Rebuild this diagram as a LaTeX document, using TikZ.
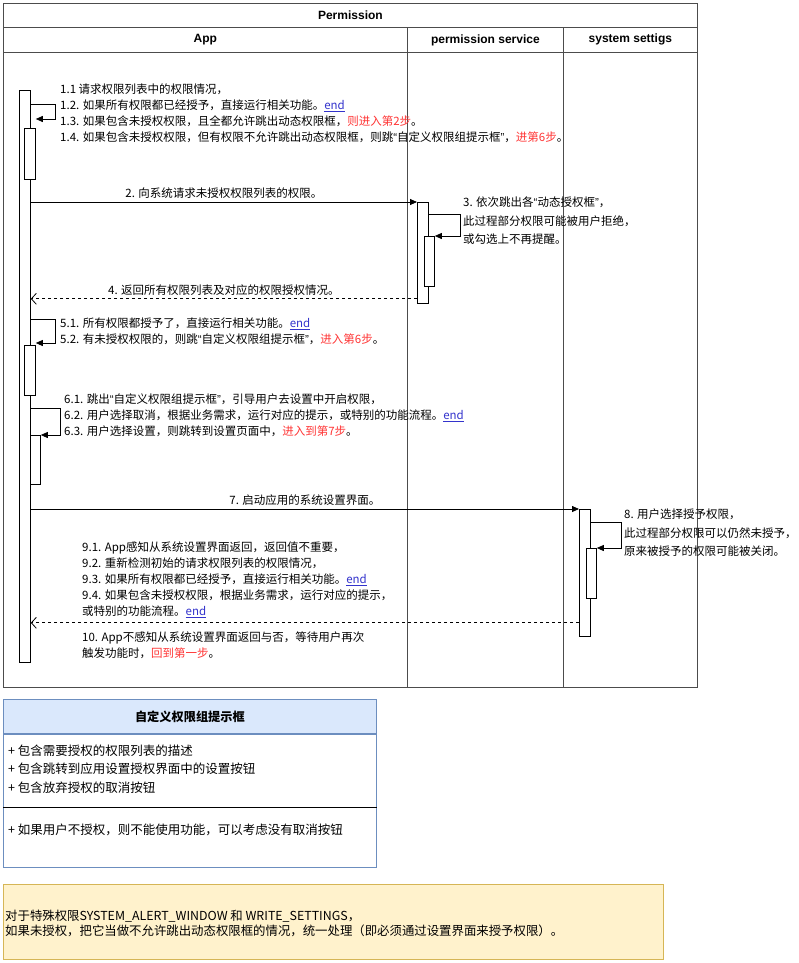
\documentclass[tikz,border=0pt]{standalone}
\usepackage{fontspec}
\setmainfont{Noto Sans CJK SC}
\newfontfamily\headfont{Liberation Sans}
\usetikzlibrary{arrows.meta,positioning,calc}
\definecolor{endblue}{RGB}{51,51,204}
\definecolor{stepred}{RGB}{255,51,51}
\definecolor{headblue}{RGB}{218,232,252}
\definecolor{headedge}{RGB}{108,142,191}
\definecolor{notefill}{RGB}{255,242,204}
\definecolor{noteedge}{RGB}{214,182,86}
\newcommand{\donetag}{\textcolor{endblue}{\underline{end}}}
\newcommand{\jumpto}[1]{\textcolor{stepred}{#1}}
\newcommand{\quoted}[1]{{\headfont“}#1{\headfont”}}

\begin{document}
\begin{tikzpicture}[x=1pt, y=-1pt,
    cell/.style={draw=black!70, line width=0.8pt, anchor=north west, inner sep=0pt, font=\headfont\bfseries\fontsize{12}{14}\selectfont},
    bar/.style={draw, fill=white, line width=0.8pt, minimum width=11, inner sep=0pt, anchor=north west},
    call/.style={line width=0.8pt, -{Triangle[length=7pt,width=6pt]}},
    back/.style={line width=0.8pt, dashed, -{Straight Barb[length=5pt,width=11pt]}},
    txt/.style={anchor=west, align=left, inner sep=0pt, font=\fontsize{11.5}{16}\selectfont},
    lbl/.style={above, inner sep=3pt, font=\fontsize{11.5}{16}\selectfont}]
\useasboundingbox (0,0) rectangle (798,963);

% pool and lanes
\node[cell, minimum width=694, minimum height=24] (pool) at (3,3) {Permission};
\node[cell, minimum width=404, minimum height=25] (apphead) at (3,27) {App};
\node[cell, minimum width=156, minimum height=25] (pshead) at (407,27) {permission service};
\node[cell, minimum width=134, minimum height=25] (sshead) at (563,27) {system settigs};
\node[cell, minimum width=404, minimum height=635] (applane) at (3,52) {};
\node[cell, minimum width=156, minimum height=635] (pslane) at (407,52) {};
\node[cell, minimum width=134, minimum height=635] (sslane) at (563,52) {};

% activation bars
\node[bar, minimum height=572] (appbar) at (19,90) {};
\node[bar, minimum height=51] (nest1) at (24,128) {};
\node[bar, minimum height=50] (nest2) at (24,345) {};
\node[bar, minimum width=10, minimum height=49] (nest3) at (30,435) {};
\node[bar, minimum height=101] (psbar) at (417,202) {};
\node[bar, minimum width=10, minimum height=50] (psnest) at (424,236) {};
\node[bar, minimum height=127] (ssbar) at (579,509) {};
\node[bar, minimum width=10, minimum height=50] (ssnest) at (586,548) {};

% self calls
\draw[call] ([yshift=-14pt]appbar.north east) -- ++(25,0) |- ([yshift=9pt]nest1.north east);
\draw[call] ($(appbar.east |- nest2.north)+(0,-26)$) -- ++(25,0) |- ([yshift=2pt]nest2.north east);
\draw[call] ($(appbar.east |- nest3.north)+(0,-27)$) -- ++(30,0) |- (nest3.north east);
\draw[call] ([yshift=-12pt]psbar.north east) -- ++(32,0) |- (psnest.north east);
\draw[call] ([yshift=-13pt]ssbar.north east) -- ++(31,0) |- (ssnest.north east);

% messages
\draw[call] (appbar.east |- psbar.north) -- node[lbl] {2. 向系统请求未授权权限列表的权限。} (psbar.north west);
\draw[back] ($(psbar.south west)+(0,-5)$) -- node[lbl] {4. 返回所有权限列表及对应的权限授权情况。} ($(appbar.east |- psbar.south)+(0,-5)$);
\draw[call] (appbar.east |- ssbar.north) -- node[lbl] {7. 启动应用的系统设置界面。} (ssbar.north west);
\draw[back] ($(ssbar.south west)+(0,-14)$) -- ($(appbar.east |- ssbar.south)+(0,-14)$);

% notes on the steps
\node[txt] (step1) at (60,113) {1.1 请求权限列表中的权限情况，\\
  1.2. 如果所有权限都已经授予，直接运行相关功能。\donetag\\
  1.3. 如果包含未授权权限，且全都允许跳出动态权限框，\jumpto{则进入第2步}。\\
  1.4. 如果包含未授权权限，但有权限不允许跳出动态权限框，则跳\quoted{自定义权限组提示框}，\jumpto{进第6步}。};
\node[txt] (step3) at (463,221) {3. 依次跳出各\quoted{动态授权框}，\\[2.5pt]
  此过程部分权限可能被用户拒绝，\\[2.5pt]
  或勾选上不再提醒。};
\node[txt] (step5) at (60,331) {5.1. 所有权限都授予了，直接运行相关功能。\donetag\\
  5.2. 有未授权权限的，则跳\quoted{自定义权限组提示框}，\jumpto{进入第6步}。};
\node[txt] (step6) at (64,415) {6.1. 跳出\quoted{自定义权限组提示框}，引导用户去设置中开启权限，\\
  6.2. 用户选择取消，根据业务需求，运行对应的提示，或特别的功能流程。\donetag\\
  6.3. 用户选择设置，则跳转到设置页面中，\jumpto{进入到第7步}。};
\node[txt] (step8) at (624,533) {8. 用户选择授予权限，\\[2.5pt]
  此过程部分权限可以仍然未授予，\\[2.5pt]
  原来被授予的权限可能被关闭。};
\node[txt] (step9) at (82,580) {9.1. App感知从系统设置界面返回，返回值不重要，\\
  9.2. 重新检测初始的请求权限列表的权限情况，\\
  9.3. 如果所有权限都已经授予，直接运行相关功能。\donetag\\
  9.4. 如果包含未授权权限，根据业务需求，运行对应的提示，\\
  或特别的功能流程。\donetag};
\node[txt] (step10) at (82,645) {10. App不感知从系统设置界面返回与否，等待用户再次\\
  触发功能时，\jumpto{回到第一步}。};

% custom permission dialog
\node[draw=headedge, fill=headblue, line width=0.8pt, anchor=north west, minimum width=373, minimum height=34, inner sep=0pt, font=\bfseries\fontsize{12.2}{14}\selectfont] (dlghead) at (3,699) {自定义权限组提示框};
\node[draw=headedge, line width=0.8pt, minimum width=373, minimum height=133, inner sep=0pt, below=0pt of dlghead] (dlgbody) {};
\draw[line width=0.8pt] ($(dlgbody.north west)+(0,74)$) -- ($(dlgbody.north east)+(0,74)$);
\node[txt, font=\fontsize{12.5}{16}\selectfont] (dlgitems) at (8,769) {+ 包含需要授权的权限列表的描述\\[2.5pt]
  + 包含跳转到应用设置授权界面中的设置按钮\\[2.5pt]
  + 包含放弃授权的取消按钮};
\node[txt, font=\fontsize{12.5}{16}\selectfont] (dlgnote) at (8,830) {+ 如果用户不授权，则不能使用功能，可以考虑没有取消按钮};

% special permissions
\node[draw=noteedge, fill=notefill, line width=0.8pt, anchor=north west, minimum width=660, minimum height=75, inner sep=0pt] (special) at (3,884) {};
\node[txt, font=\fontsize{12.4}{15}\selectfont, right=2pt of special.west, yshift=-2pt] (specialtext) {对于特殊权限SYSTEM\_ALERT\_WINDOW 和 WRITE\_SETTINGS，\\
  如果未授权，把它当做不允许跳出动态权限框的情况，统一处理（即必须通过设置界面来授予权限）。};
\end{tikzpicture}
\end{document}
